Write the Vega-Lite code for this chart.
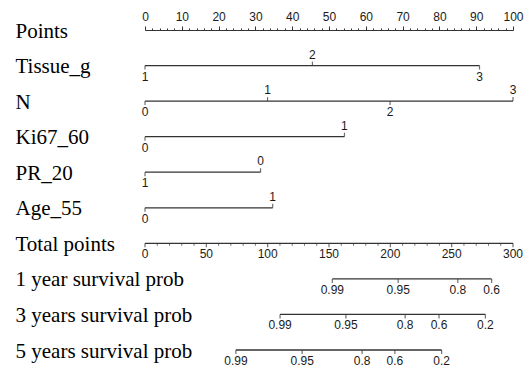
{
  "$schema": "https://vega.github.io/schema/vega-lite/v6.json",
  "width": 368,
  "height": 320,
  "autosize": "none",
  "padding": {"left": 145, "top": 30, "right": 15, "bottom": 17},
  "background": "white",
  "config": {"view": {"stroke": null}},
  "datasets": {
    "lines": [
      {"row": "Tissue_g", "pts": 0, "end": 90.9},
      {"row": "N", "pts": 0, "end": 100},
      {"row": "Ki67_60", "pts": 0, "end": 54.2},
      {"row": "PR_20", "pts": 0, "end": 31.4},
      {"row": "Age_55", "pts": 0, "end": 34.7},
      {"row": "Total points", "pts": 0, "end": 100},
      {"row": "1 year survival prob", "pts": 50.9, "end": 94.2},
      {"row": "3 years survival prob", "pts": 36.7, "end": 92.5},
      {"row": "5 years survival prob", "pts": 24.7, "end": 80.6}
    ],
    "ticks": [
      {"row": "Tissue_g", "pts": 0, "label": "1", "side": "below"},
      {"row": "Tissue_g", "pts": 45.5, "label": "2", "side": "above"},
      {"row": "Tissue_g", "pts": 90.9, "label": "3", "side": "below"},
      {"row": "N", "pts": 0, "label": "0", "side": "below"},
      {"row": "N", "pts": 33.3, "label": "1", "side": "above"},
      {"row": "N", "pts": 66.6, "label": "2", "side": "below"},
      {"row": "N", "pts": 100, "label": "3", "side": "above"},
      {"row": "Ki67_60", "pts": 0, "label": "0", "side": "below"},
      {"row": "Ki67_60", "pts": 54.2, "label": "1", "side": "above"},
      {"row": "PR_20", "pts": 0, "label": "1", "side": "below"},
      {"row": "PR_20", "pts": 31.4, "label": "0", "side": "above"},
      {"row": "Age_55", "pts": 0, "label": "0", "side": "below"},
      {"row": "Age_55", "pts": 34.7, "label": "1", "side": "above"},
      {"row": "Total points", "pts": 0, "label": "0", "side": "below"},
      {"row": "Total points", "pts": 16.667, "label": "50", "side": "below"},
      {"row": "Total points", "pts": 33.333, "label": "100", "side": "below"},
      {"row": "Total points", "pts": 50, "label": "150", "side": "below"},
      {"row": "Total points", "pts": 66.667, "label": "200", "side": "below"},
      {"row": "Total points", "pts": 83.333, "label": "250", "side": "below"},
      {"row": "Total points", "pts": 100, "label": "300", "side": "below"},
      {"row": "1 year survival prob", "pts": 50.9, "label": "0.99", "side": "below"},
      {"row": "1 year survival prob", "pts": 68.8, "label": "0.95", "side": "below"},
      {"row": "1 year survival prob", "pts": 85.0, "label": "0.8", "side": "below"},
      {"row": "1 year survival prob", "pts": 94.2, "label": "0.6", "side": "below"},
      {"row": "3 years survival prob", "pts": 36.7, "label": "0.99", "side": "below"},
      {"row": "3 years survival prob", "pts": 54.6, "label": "0.95", "side": "below"},
      {"row": "3 years survival prob", "pts": 70.7, "label": "0.8", "side": "below"},
      {"row": "3 years survival prob", "pts": 79.9, "label": "0.6", "side": "below"},
      {"row": "3 years survival prob", "pts": 92.5, "label": "0.2", "side": "below"},
      {"row": "5 years survival prob", "pts": 24.7, "label": "0.99", "side": "below"},
      {"row": "5 years survival prob", "pts": 42.7, "label": "0.95", "side": "below"},
      {"row": "5 years survival prob", "pts": 59.0, "label": "0.8", "side": "below"},
      {"row": "5 years survival prob", "pts": 67.9, "label": "0.6", "side": "below"},
      {"row": "5 years survival prob", "pts": 80.6, "label": "0.2", "side": "below"}
    ],
    "minor": [
      {"row": "Total points", "pts": 3.333},
      {"row": "Total points", "pts": 6.667},
      {"row": "Total points", "pts": 10},
      {"row": "Total points", "pts": 13.333},
      {"row": "Total points", "pts": 20},
      {"row": "Total points", "pts": 23.333},
      {"row": "Total points", "pts": 26.667},
      {"row": "Total points", "pts": 30},
      {"row": "Total points", "pts": 36.667},
      {"row": "Total points", "pts": 40},
      {"row": "Total points", "pts": 43.333},
      {"row": "Total points", "pts": 46.667},
      {"row": "Total points", "pts": 53.333},
      {"row": "Total points", "pts": 56.667},
      {"row": "Total points", "pts": 60},
      {"row": "Total points", "pts": 63.333},
      {"row": "Total points", "pts": 70},
      {"row": "Total points", "pts": 73.333},
      {"row": "Total points", "pts": 76.667},
      {"row": "Total points", "pts": 80},
      {"row": "Total points", "pts": 86.667},
      {"row": "Total points", "pts": 90},
      {"row": "Total points", "pts": 93.333},
      {"row": "Total points", "pts": 96.667}
    ]
  },
  "encoding": {
    "x": {
      "field": "pts", "type": "quantitative",
      "scale": {"domain": [0, 100], "nice": false, "zero": false},
      "axis": {
        "orient": "top", "title": null, "grid": false,
        "values": [0,2,4,6,8,10,12,14,16,18,20,22,24,26,28,30,32,34,36,38,40,42,44,46,48,50,52,54,56,58,60,62,64,66,68,70,72,74,76,78,80,82,84,86,88,90,92,94,96,98,100],
        "labelExpr": "datum.value % 10 === 0 ? datum.label : ''",
        "tickSize": {"condition": {"test": "datum.value % 10 === 0", "value": 4}, "value": 2},
        "tickColor": "#333", "domainColor": "#333", "domainWidth": 1.2,
        "labelFont": "Liberation Sans", "labelFontSize": 12, "labelColor": "#1a1a1a",
        "labelPadding": 3, "labelFlush": false, "labelOverlap": false
      }
    },
    "y": {
      "field": "row", "type": "nominal",
      "scale": {"type": "point", "padding": 0,
        "domain": ["Points", "Tissue_g", "N", "Ki67_60", "PR_20", "Age_55", "Total points", "1 year survival prob", "3 years survival prob", "5 years survival prob"]},
      "axis": {
        "title": null, "domain": false, "ticks": false, "tickSize": 0,
        "labelAlign": "left", "labelPadding": 130, "labelLimit": 400,
        "labelFont": "Liberation Serif", "labelFontSize": 21, "labelColor": "#000",
        "labelOffset": 1
      }
    }
  },
  "layer": [
    {
      "data": {"name": "lines"},
      "mark": {"type": "rule", "color": "#333", "strokeWidth": 1.3},
      "encoding": {"x2": {"field": "end"}}
    },
    {
      "data": {"name": "ticks"},
      "transform": [{"filter": "datum.side === 'above'"}],
      "mark": {"type": "tick", "color": "#333", "size": 4, "thickness": 1.2, "yOffset": -2}
    },
    {
      "data": {"name": "ticks"},
      "transform": [{"filter": "datum.side === 'below'"}],
      "mark": {"type": "tick", "color": "#333", "size": 4, "thickness": 1.2, "yOffset": 2}
    },
    {
      "data": {"name": "minor"},
      "mark": {"type": "tick", "color": "#333", "size": 2.5, "thickness": 1, "yOffset": 1.25}
    },
    {
      "data": {"name": "ticks"},
      "transform": [{"filter": "datum.side === 'above'"}],
      "mark": {"type": "text", "font": "Liberation Sans", "fontSize": 12, "color": "#1a1a1a", "baseline": "middle", "dy": -11},
      "encoding": {"text": {"field": "label"}}
    },
    {
      "data": {"name": "ticks"},
      "transform": [{"filter": "datum.side === 'below'"}],
      "mark": {"type": "text", "font": "Liberation Sans", "fontSize": 12, "color": "#1a1a1a", "baseline": "middle", "dy": 11},
      "encoding": {"text": {"field": "label"}}
    }
  ]
}
